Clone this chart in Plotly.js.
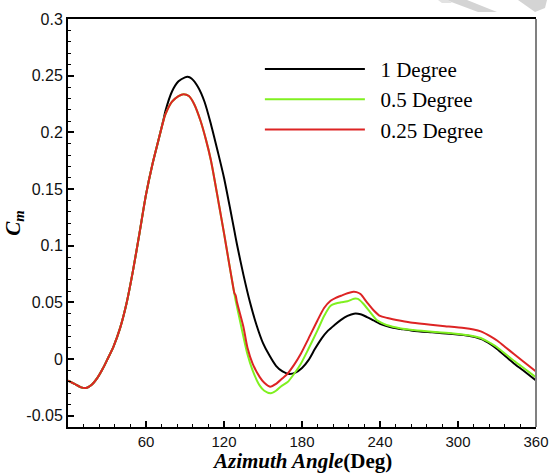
<!DOCTYPE html>
<html>
<head>
<meta charset="utf-8">
<script src="https://cdn.plot.ly/plotly-3.0.1.min.js"></script>
<style>html,body{margin:0;padding:0;background:#fff;}#chart{width:550px;height:473px;}</style>
</head>
<body>
<div id="chart"></div>
<script>
// Series names
const seriesNames = ['1 Degree', '0.5 Degree', '0.25 Degree'];

// 1 Degree (black)
const angle1 = [0,5,10,14,18,23,27,30,35,40,45,50,55,60,65,70,73.6,75,80,85,90,92,95,100,105,110,115,120,125,128,130,135,140,145,150,155,160,165,170,175,180,185,190,195,200,205,210,215,220,225,230,235,240,245,250,256,265,280,296,308,318,325,330,337,343,350,360];
const cm1    = [-0.019,-0.022,-0.025,-0.0256,-0.023,-0.016,-0.008,-0.001,0.011,0.027,0.049,0.078,0.111,0.145,0.172,0.195,0.212,0.219,0.236,0.245,0.2485,0.249,0.2475,0.240,0.227,0.207,0.184,0.160,0.131,0.113,0.101,0.074,0.050,0.030,0.014,0.003,-0.006,-0.011,-0.0132,-0.012,-0.008,-0.001,0.009,0.018,0.025,0.030,0.0345,0.038,0.040,0.0395,0.037,0.034,0.031,0.029,0.0275,0.0265,0.025,0.0235,0.022,0.0205,0.0175,0.013,0.0088,0.002,-0.0039,-0.010,-0.019];

// 0.5 Degree (green)
const angle05 = [0,5,10,14,18,23,27,30,35,40,45,50,55,60,65,70,73.6,75,80,85,89,93,97,102,106,110,116,120,124,127,129,133,138,142,147.5,151,156,160,164,168.7,174,179,185,191.8,197,202,206,210,215,220,223,227,232,237.4,240.5,245,256,265.6,280,296.4,308,317.5,325,330.3,337,343,350,360];
const cm05    = [-0.019,-0.022,-0.025,-0.0256,-0.023,-0.016,-0.008,-0.001,0.011,0.027,0.049,0.078,0.111,0.145,0.172,0.195,0.211,0.216,0.227,0.232,0.2337,0.232,0.225,0.210,0.194,0.175,0.137,0.111,0.084,0.064,0.0514,0.030,0.0044,-0.010,-0.0235,-0.028,-0.0303,-0.028,-0.024,-0.0206,-0.013,-0.0044,0.009,0.025,0.038,0.047,0.049,0.050,0.051,0.0532,0.053,0.049,0.042,0.0344,0.0323,0.030,0.027,0.0256,0.024,0.0226,0.021,0.0185,0.014,0.0102,0.004,-0.0015,-0.0075,-0.0162];

// 0.25 Degree (red)
const angle025 = [0,5,10,14,18,23,27,30,35,40,45,50,55,60,65,70,73.6,75,80,85,89,93,97,102,106,110,116,120,124,127,128,129,130,135,138,142,147.5,151,155.4,160,165,168.7,174,179,185,191.8,197,202,206,210,215,219.5,222,225,230,235.4,240,245.7,256,265,279,290,304.6,312,317.5,325,330.3,337,343,350,360];
const cm025    = [-0.019,-0.022,-0.025,-0.0256,-0.023,-0.016,-0.008,-0.001,0.011,0.027,0.049,0.078,0.111,0.145,0.172,0.195,0.211,0.216,0.227,0.232,0.2337,0.232,0.225,0.210,0.194,0.175,0.137,0.111,0.084,0.064,0.058,0.056,0.050,0.028,0.0102,-0.004,-0.016,-0.021,-0.0244,-0.022,-0.017,-0.0132,-0.005,0.0044,0.018,0.0338,0.045,0.0514,0.054,0.0558,0.058,0.0593,0.059,0.0573,0.050,0.0426,0.038,0.0362,0.0338,0.032,0.0302,0.029,0.0273,0.026,0.0244,0.020,0.0161,0.010,0.0044,-0.002,-0.011];

// Tick labels
const xTickVals = [60,120,180,240,300,360];
const yTickVals = [-0.05,0,0.05,0.1,0.15,0.2,0.25,0.3];
const yTickText = ['-0.05','0','0.05','0.1','0.15','0.2','0.25','0.3'];
const xTitle = '<b><i>Azimuth Angle</i>(Deg)</b>';
const yTitle = '<b><i>C<sub>m</sub></i></b>';

const colors = ['#000000', '#80f020', '#dd2424'];
const xs = [angle1, angle05, angle025];
const ys = [cm1, cm05, cm025];

const traces = xs.map((x, i) => ({
  x: x, y: ys[i], name: '\u00a0\u00a0' + seriesNames[i], type: 'scatter', mode: 'lines',
  line: {color: colors[i], width: 2, shape: 'spline', smoothing: 0.7}
}));

// paper coordinate helpers for watermark (plot area 68..536 x, 19..427 y)
function px(x){ return (x-68)/468; }
function py(y){ return (427-y)/408; }
function poly(pts){ return 'M' + pts.map(p => px(p[0]).toFixed(4)+','+py(p[1]).toFixed(4)).join(' L') + ' Z'; }

const layout = {
  width: 550, height: 473,
  margin: {l: 68, r: 14, t: 19, b: 46},
  paper_bgcolor: '#ffffff', plot_bgcolor: '#ffffff',
  showlegend: true,
  legend: {
    x: 0.41, y: 0.927, xanchor: 'left', yanchor: 'top',
    bgcolor: 'rgba(0,0,0,0)', borderwidth: 0,
    font: {family: 'Liberation Serif, Times New Roman, serif', size: 21, color: '#000'},
    itemwidth: 100, tracegroupgap: 0
  },
  xaxis: {
    range: [0, 360], tickmode: 'array', tickvals: xTickVals,
    ticks: 'inside', ticklen: 6, tickwidth: 2, tickcolor: '#000',
    minor: {dtick: 12, ticks: 'inside', ticklen: 3, tickwidth: 1, tickcolor: '#000'},
    showline: true, linecolor: '#000', linewidth: 2, mirror: true,
    showgrid: false, zeroline: false,
    tickfont: {family: 'Liberation Sans, Arial, sans-serif', size: 15, color: '#111'}
  },
  yaxis: {
    range: [-0.06, 0.3], tickmode: 'array', tickvals: yTickVals, ticktext: yTickText,
    ticks: 'inside', ticklen: 6, tickwidth: 2, tickcolor: '#000',
    minor: {dtick: 0.01, tick0: 0, ticks: 'inside', ticklen: 3, tickwidth: 1, tickcolor: '#000'},
    showline: true, linecolor: '#000', linewidth: 2, mirror: false,
    showgrid: false, zeroline: false,
    tickfont: {family: 'Liberation Sans, Arial, sans-serif', size: 16, color: '#111'},
    title: {text: yTitle, standoff: 0,
      font: {family: 'Liberation Serif, Times New Roman, serif', size: 21, color: '#000'}}
  },
  annotations: [
    {text: xTitle, xref: 'paper', yref: 'paper', x: 0.5, y: -0.0833, xanchor: 'center', yanchor: 'middle',
      showarrow: false, font: {family: 'Liberation Serif, Times New Roman, serif', size: 21, color: '#000'}}
  ],
  shapes: [
    {type: 'line', xref: 'paper', yref: 'paper', x0: 1, x1: 1, y0: 0, y1: 1, line: {color: '#808080', width: 2}},
    {type: 'path', xref: 'paper', yref: 'paper', layer: 'below', line: {width: 0}, fillcolor: '#d4d4d4',
      path: poly([[446,0],[467,0],[497,12],[478,12]])},
    {type: 'path', xref: 'paper', yref: 'paper', layer: 'below', line: {width: 0}, fillcolor: '#d4d4d4',
      path: poly([[518,0],[547,0],[545,8],[535,12]])},
    {type: 'path', xref: 'paper', yref: 'paper', layer: 'below', line: {width: 0}, fillcolor: '#e2e2e2',
      path: poly([[438,0],[448,0],[452,3],[442,3]])}
  ]
};

Plotly.newPlot('chart', traces, layout, {displayModeBar: false, staticPlot: true});
</script>
</body>
</html>
